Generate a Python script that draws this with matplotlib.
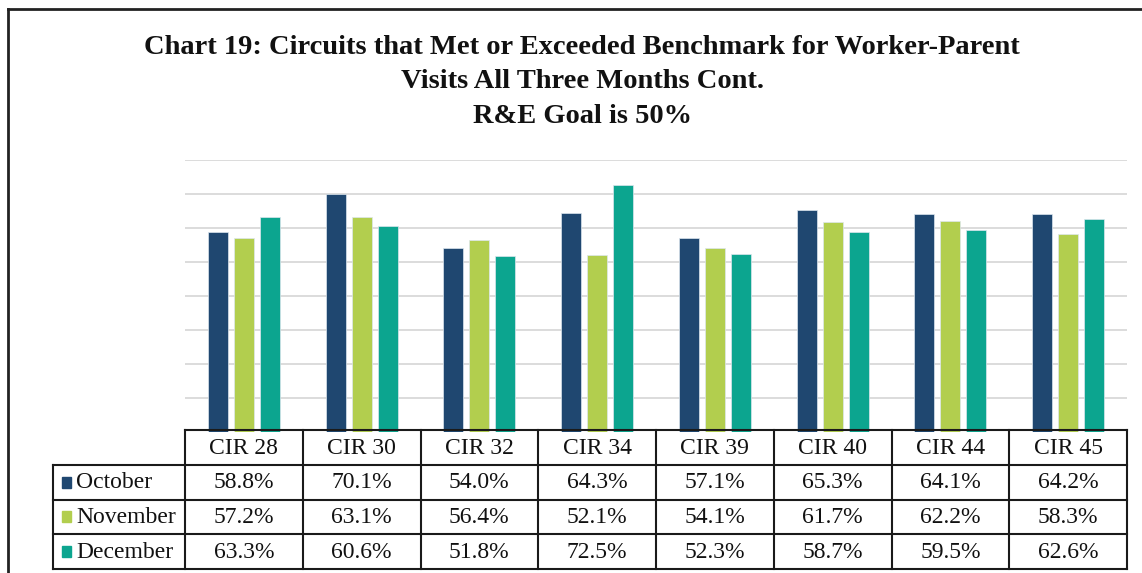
import matplotlib
matplotlib.use("Agg")
import matplotlib.pyplot as plt
from matplotlib.lines import Line2D
from matplotlib.patches import Rectangle
import numpy as np

# ---------- data -------------------------------------------------------------

categories = ["CIR 28", "CIR 30", "CIR 32", "CIR 34", "CIR 39", "CIR 40", "CIR 44", "CIR 45"]
october = [58.8, 70.1, 54.0, 64.3, 57.1, 65.3, 64.1, 64.2]
november = [57.2, 63.1, 56.4, 52.1, 54.1, 61.7, 62.2, 58.3]
december = [63.3, 60.6, 51.8, 72.5, 52.3, 58.7, 59.5, 62.6]
series_names = ["October", "November", "December"]
colors = ["#1F4770", "#B2CE4E", "#0CA58F"]

title = ("Chart 19: Circuits that Met or Exceeded Benchmark for Worker-Parent\n"
         "Visits All Three Months Cont.\n"
         "R&E Goal is 50%")

# ---------- layout (pixels) -------------------------------------------------

W, H = 1142, 573
plt.rcParams["font.family"] = ["Liberation Serif", "DejaVu Serif"]

fig = plt.figure(figsize=(W / 100, H / 100), dpi=100)

def fx(px):
    return px / W

def fy(py):
    return 1 - py / H

ax_left, ax_right, ax_top, ax_bot = 185, 1127, 160, 432
ax = fig.add_axes([fx(ax_left), fy(ax_bot), fx(ax_right - ax_left), fy(ax_top) - fy(ax_bot)])

x = np.arange(len(categories))
bw = 0.17
step = 0.22
for i, (vals, c) in enumerate(zip([october, november, december], colors)):
    ax.bar(x + (i - 1) * step, vals, width=bw, color=c, edgecolor="#dde6ee",
           linewidth=0.5, zorder=3)

ax.set_xlim(-0.5, len(categories) - 0.5)
ax.set_ylim(0, 80)
ax.set_yticks(np.arange(10, 81, 10))
ax.yaxis.grid(True, color="#D9D9D9", linewidth=1.3, zorder=0)
ax.set_xticks([])
ax.tick_params(left=False, labelleft=False)
for s in ax.spines.values():
    s.set_visible(False)

# ---------- data table -------------------------------------------------------

tb_top, tb_bot = 430, 569
tax = fig.add_axes([fx(ax_left), fy(tb_bot), fx(ax_right - ax_left), fy(tb_top) - fy(tb_bot)])
tax.set_xlim(-0.5, len(categories) - 0.5)
tax.set_ylim(4, 0)
tax.axis("off")

cat_w = (ax_right - ax_left) / len(categories)
leg_x0 = -0.5 - (ax_left - 53) / cat_w
lk = dict(color="#1a1a1a", linewidth=1.5, clip_on=False, solid_capstyle="projecting")

# horizontal lines
tax.plot([-0.5, 7.5], [0, 0], **lk)
for r in [1, 2, 3, 4]:
    tax.plot([leg_x0, 7.5], [r, r], **lk)
# vertical lines
tax.plot([leg_x0, leg_x0], [1, 4], **lk)
for cidx in range(len(categories) + 1):
    tax.plot([cidx - 0.5, cidx - 0.5], [0, 4], **lk)

fs = 17
for i, cat in enumerate(categories):
    tax.text(i, 0.52, cat, ha="center", va="center", fontsize=fs, color="#111111")

for r, (name, vals, c) in enumerate(zip(series_names, [october, november, december], colors)):
    yc = r + 1.5
    tax.add_patch(Rectangle((leg_x0 + 9 / cat_w, yc - 0.16), 9 / cat_w, 0.32,
                            color=c, clip_on=False))
    tax.text(leg_x0 + 23 / cat_w, yc + 0.02, name, ha="left", va="center",
             fontsize=fs, color="#111111")
    for i, v in enumerate(vals):
        tax.text(i, yc + 0.02, f"{v:.1f}%", ha="center", va="center",
                 fontsize=fs, color="#111111")

# ---------- title & frame ----------------------------------------------------

fig.text(fx(582), fy(82), title, ha="center", va="center", fontsize=20.5,
         fontweight="bold", color="#111111", linespacing=1.48)

fig.add_artist(Line2D([fx(8), fx(8)], [0, fy(9)], color="#222222", linewidth=2))
fig.add_artist(Line2D([fx(8), 1], [fy(9), fy(9)], color="#222222", linewidth=2))

fig.savefig("out.png", dpi=100)
